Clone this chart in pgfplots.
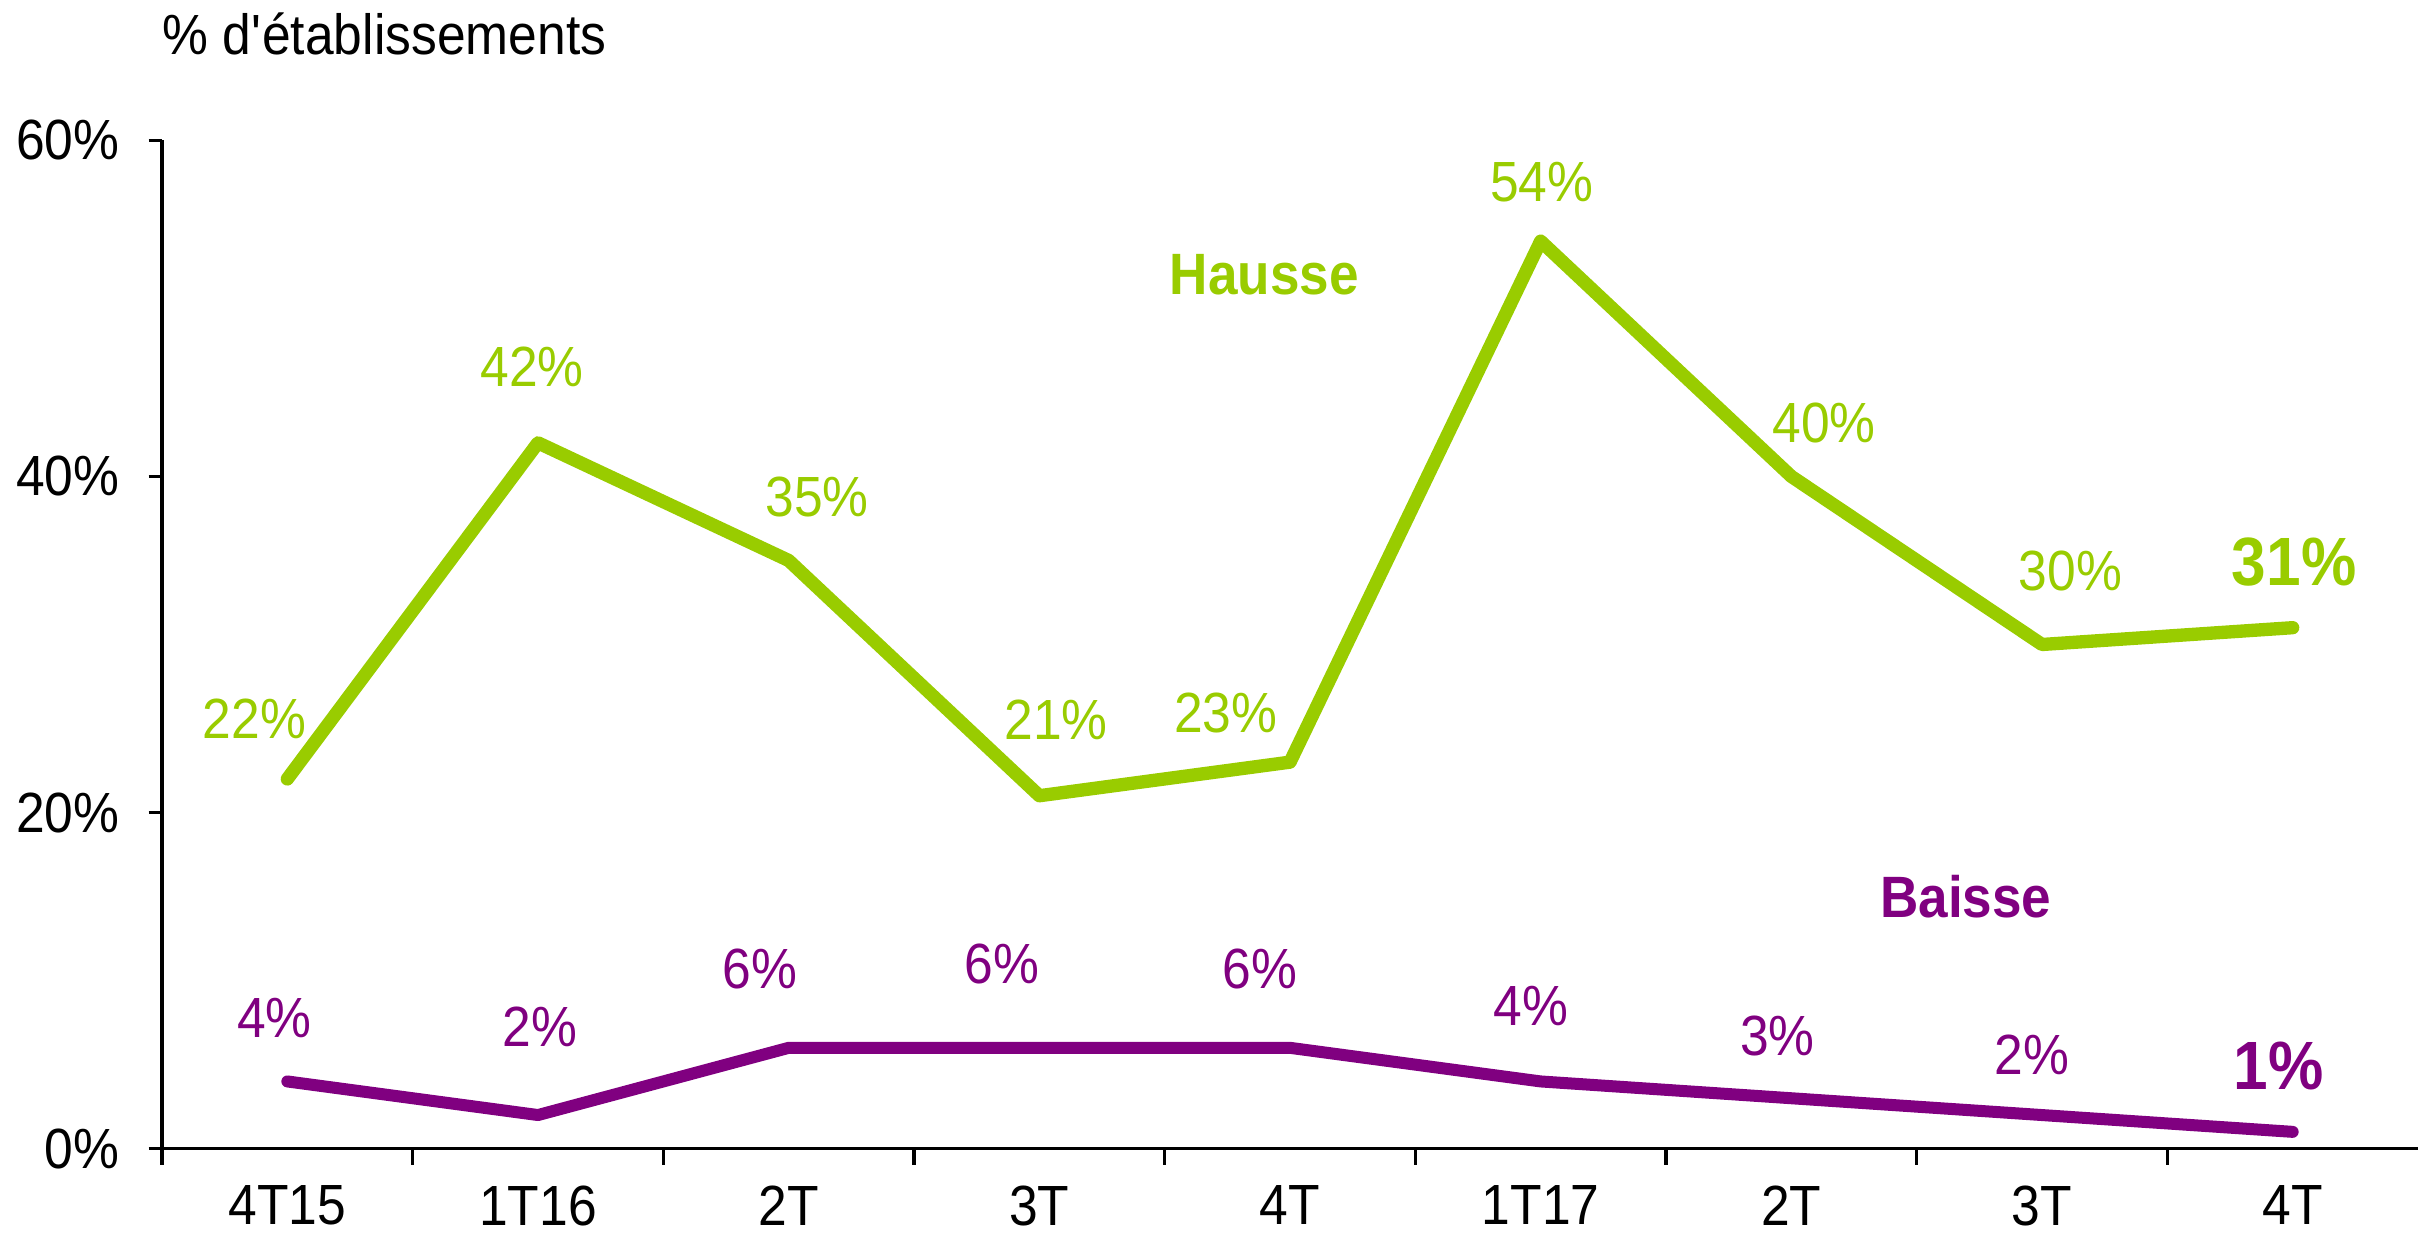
\documentclass[border=0pt]{standalone}
\usepackage{pgfplots}
\pgfplotsset{compat=1.18}
\usepackage{fontspec}
\setmainfont{Liberation Sans}[FakeStretch=0.91]
\definecolor{hausse}{HTML}{99CC00}
\definecolor{baisse}{HTML}{800080}
\newcommand{\txt}{\fontsize{17}{20}\selectfont}
\newcommand{\bigtxt}{\fontsize{20.5}{24}\selectfont\bfseries}
\newcommand{\lbl}{\fontsize{17.5}{21}\selectfont\bfseries}
\begin{document}
\begin{tikzpicture}
\begin{axis}[
    scale only axis,
    width=676.8pt, height=302.5pt,
    xmin=-0.5, xmax=8.5,
    ymin=0, ymax=60,
    axis x line=bottom, axis y line=left,
    axis line style={-, line width=1pt},
    xtick={0,...,8},
    xticklabels={4T15,1T16,2T,3T,4T,1T17,2T,3T,4T},
    major x tick style={draw=none},
    minor xtick={-0.5,0.5,...,7.5},
    minor tick length=4.8pt,
    ytick={0,20,40,60},
    yticklabels={0\%,20\%,40\%,60\%},
    major tick length=4pt,
    tick align=outside,
    tick style={black, line width=1pt},
    ticklabel style={font=\txt},
    xticklabel style={yshift=-3.5pt},
    yticklabel style={xshift=-5.3pt},
    clip=false,
]
\addplot[hausse, line width=4pt, line cap=round, line join=round] coordinates {
(0,22) (1,42) (2,35) (3,21) (4,23) (5,54) (6,40) (7,30) (8,31)};
\addplot[baisse, line width=3.6pt, line cap=round, line join=round] coordinates {
(0,4) (1,2) (2,6) (3,6) (4,6) (5,4) (6,3) (7,2) (8,1)};

\begin{scope}[every node/.style={font=\txt, text=hausse}]
\node at (axis cs:-0.131,25.6) {22\%};
\node at (axis cs:0.976,46.5) {42\%};
\node at (axis cs:2.114,38.8) {35\%};
\node at (axis cs:3.067,25.5) {21\%};
\node at (axis cs:3.744,25.9) {23\%};
\node at (axis cs:5.004,57.5) {54\%};
\node at (axis cs:6.130,43.2) {40\%};
\node at (axis cs:7.114,34.4) {30\%};
\node[font=\bigtxt] at (axis cs:8.006,34.9) {31\%};
\node[font=\lbl] at (axis cs:3.897,52.0) {Hausse};
\end{scope}
\begin{scope}[every node/.style={font=\txt, text=baisse}]
\node at (axis cs:-0.051,7.8) {4\%};
\node at (axis cs:1.007,7.25) {2\%};
\node at (axis cs:1.886,10.7) {6\%};
\node at (axis cs:2.852,11.0) {6\%};
\node at (axis cs:3.879,10.7) {6\%};
\node at (axis cs:4.961,8.5) {4\%};
\node at (axis cs:5.945,6.7) {3\%};
\node at (axis cs:6.96,5.6) {2\%};
\node[font=\bigtxt] at (axis cs:7.944,4.9) {1\%};
\node[font=\lbl] at (axis cs:6.696,15.0) {Baisse};
\end{scope}
\node[anchor=west, inner sep=0pt, font=\txt] at ([yshift=31.9pt]rel axis cs:0,1) {\% d\textquotesingle établissements};
\end{axis}
\pgfresetboundingbox
\path (-48.6pt,-27.3pt) rectangle (676.8pt,344.6pt);
\end{tikzpicture}
\end{document}
